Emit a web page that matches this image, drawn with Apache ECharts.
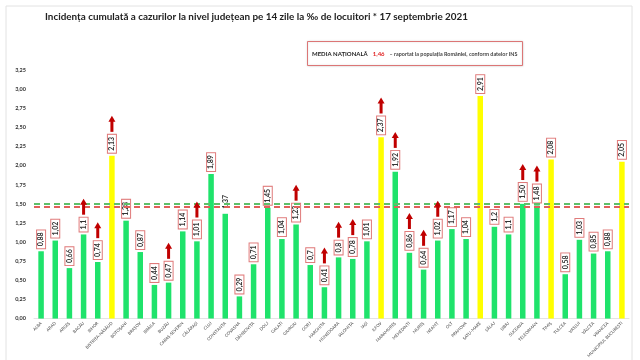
<!DOCTYPE html>
<html>
<head>
<meta charset="utf-8">
<script src="https://cdn.jsdelivr.net/npm/echarts@6/dist/echarts.min.js"></script>
<style>
html,body{margin:0;padding:0;background:#fff;}
#c{width:640px;height:360px;}
</style>
</head>
<body>
<div id="c"></div>
<script>
const counties = ["ALBA","ARAD","ARGEȘ","BACĂU","BIHOR","BISTRIȚA-NĂSĂUD","BOTOȘANI","BRAȘOV","BRĂILA","BUZĂU","CARAȘ-SEVERIN","CĂLĂRAȘI","CLUJ","CONSTANȚA","COVASNA","DÂMBOVIȚA","DOLJ","GALAȚI","GIURGIU","GORJ","HARGHITA","HUNEDOARA","IALOMIȚA","IAȘI","ILFOV","MARAMUREȘ","MEHEDINȚI","MUREȘ","NEAMȚ","OLT","PRAHOVA","SATU-MARE","SĂLAJ","SIBIU","SUCEAVA","TELEORMAN","TIMIȘ","TULCEA","VASLUI","VÂLCEA","VRANCEA","MUNICIPIUL BUCUREȘTI"];
const values = [0.88,1.02,0.66,1.1,0.74,2.13,1.28,0.87,0.44,0.47,1.14,1.01,1.89,1.37,0.29,0.71,1.45,1.04,1.23,0.7,0.41,0.8,0.78,1.01,2.37,1.92,0.86,0.64,1.02,1.17,1.04,2.91,1.2,1.1,1.50,1.48,2.08,0.58,1.03,0.85,0.88,2.05];
const valueLabels = ["0,88","1,02","0,66","1,1","0,74","2,13","1,28","0,87","0,44","0,47","1,14","1,01","1,89","1,37","0,29","0,71","1,45","1,04","1,23","0,7","0,41","0,8","0,78","1,01","2,37","1,92","0,86","0,64","1,02","1,17","1,04","2,91","1,2","1,1","1,50","1,48","2,08","0,58","1,03","0,85","0,88","2,05"];
const risingFlags = [0,0,0,1,1,1,0,0,0,1,0,1,0,0,0,0,0,0,1,0,1,1,1,0,1,1,1,1,1,0,0,0,0,0,1,1,0,0,0,0,0,0];
const unboxedLabels = ["CONSTANȚA"];
const nationalAverage = 1.46;
const threshold = 1.5;
const yMin = 0, yMax = 3.25, yStep = 0.25;
const titleText = "Incidența cumulată a cazurilor la nivel județean pe 14 zile la ‰ de locuitori * 17 septembrie 2021";

const GREEN = '#1fe36b', YELLOW = '#ffff00', ARROW = '#c00000';
const LABEL_FONT = 'bold 7px Lato';
const LABEL_DIST = 3, LABEL_PAD_LONG = 2;

const cv = document.createElement('canvas').getContext('2d');
cv.font = LABEL_FONT;
function labelLen(i){ return cv.measureText(valueLabels[i]).width + LABEL_PAD_LONG*2 + 2; }

const barData = values.map((v,i)=>{
  const boxed = unboxedLabels.indexOf(counties[i]) < 0;
  return {
    value: v,
    itemStyle: {color: v >= 2 ? YELLOW : GREEN},
    label: boxed ? {} : {borderWidth: 0, backgroundColor: 'transparent'}
  };
});
const arrowData = [];
risingFlags.forEach((f,i)=>{ if(f) arrowData.push([i, values[i]]); });

const chart = echarts.init(document.getElementById('c'), null, {renderer:'canvas'});
chart.setOption({
  animation: false,
  backgroundColor: '#fff',
  title: [{
    text: titleText,
    left: 45, top: 12, padding: 0,
    textStyle: {fontFamily: 'Lato', fontWeight: 'bold', fontSize: 9.9, color: '#222'}
  },{
    text: '{a|MEDIA NAȚIONALĂ} {b|1,46} {c|– raportat la populația României, conform datelor INS}',
    left: 307, top: 41,
    padding: [4, 5, 3, 5],
    borderColor: '#dc7676', borderWidth: 1,
    shadowColor: 'rgba(0,0,0,0.15)', shadowBlur: 2,
    backgroundColor: '#fff',
    textStyle: {
      rich: {
        a: {fontFamily: 'Lato', fontWeight: 'bold', fontSize: 6, color: '#222', lineHeight: 7},
        b: {fontFamily: 'Lato', fontWeight: 'bold', fontSize: 6, color: '#e02020', lineHeight: 7},
        c: {fontFamily: 'Lato', fontSize: 5.4, color: '#444', lineHeight: 7}
      }
    }
  }],
  graphic: [{
    type: 'rect', shape: {x: 6, y: 6, width: 626, height: 360},
    style: {fill: 'none', stroke: '#e2e2e2', lineWidth: 1}, silent: true
  }],
  grid: {left: 34, right: 11, top: 70, bottom: 39},
  xAxis: {
    type: 'category', data: counties,
    axisTick: {show: false},
    axisLine: {lineStyle: {color: '#e4e4e4'}},
    axisLabel: {interval: 0, rotate: 45, fontSize: 4.2, fontFamily: 'Lato', color: '#444', margin: 4}
  },
  yAxis: {
    type: 'value', min: yMin, max: yMax, interval: yStep,
    splitLine: {show: false},
    axisLine: {show: false}, axisTick: {show: false},
    axisLabel: {fontSize: 5.5, fontFamily: 'Lato', fontWeight: 'bold', color: '#333', margin: 8,
      formatter: v => v.toFixed(2).replace('.', ',')}
  },
  series: [{
    type: 'bar', data: barData, barWidth: 5.5,
    label: {
      show: true, position: 'top', rotate: 90, align: 'left', verticalAlign: 'middle',
      distance: LABEL_DIST,
      formatter: p => valueLabels[p.dataIndex],
      fontFamily: 'Lato', fontWeight: 'bold', fontSize: 7, color: '#333',
      backgroundColor: '#fff', borderColor: '#e07a7a', borderWidth: 1,
      padding: [1, LABEL_PAD_LONG, 0, LABEL_PAD_LONG]
    },
    markLine: {
      silent: true, symbol: 'none', label: {show: false},
      data: [
        {yAxis: threshold, lineStyle: {color: '#5fbf6a', type: [6, 4], width: 2}},
        {yAxis: nationalAverage, lineStyle: {color: '#e0605a', type: [6, 4], width: 2}}
      ]
    },
    z: 2
  },{
    type: 'custom', data: arrowData, z: 5,
    renderItem: (params, api) => {
      const i = api.value(0), v = api.value(1);
      const p = api.coord([i, v]);
      const base = p[1] - LABEL_DIST - labelLen(i) - 1;
      const top = base - 16;
      return {type: 'group', children: [
        {type: 'rect', shape: {x: p[0]-1.5, y: top+5, width: 3, height: base-top-5}, style: {fill: ARROW}},
        {type: 'polygon', shape: {points: [[p[0]-3.5, top+6],[p[0]+3.5, top+6],[p[0], top]]}, style: {fill: ARROW}}
      ]};
    }
  }]
});
</script>
</body>
</html>
